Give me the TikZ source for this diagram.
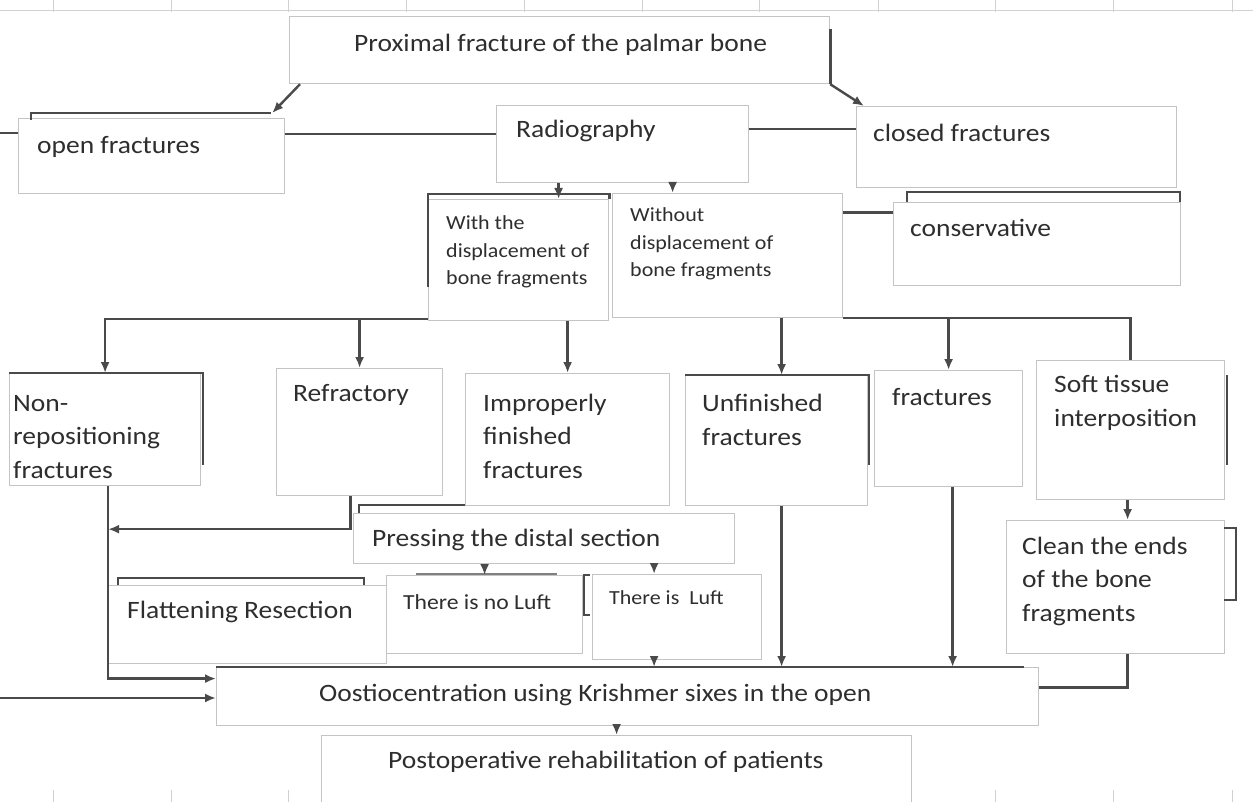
\documentclass[tikz,border=0pt]{standalone}
\usepackage{fontspec}
\setmainfont{Carlito}[FakeStretch=1.1]
\usepackage{tikz}
\usetikzlibrary{arrows.meta, calc}
\definecolor{boxgray}{HTML}{C4C4C4}
\definecolor{linegray}{HTML}{4A4A4A}
\definecolor{txtgray}{HTML}{2E2E2E}

\begin{document}
\begin{tikzpicture}[x=1pt, y=-1pt,
  box/.style={draw=boxgray, line width=1.2pt, fill=white, anchor=north west, inner sep=0pt},
  edge/.style={draw=linegray, line width=2.6pt},
  conn/.style={draw=linegray, line width=2.4pt},
  arr/.style={conn, -{Latex[length=11pt,width=9pt]}},
  txt/.style={text=txtgray, anchor=west, inner sep=0pt, align=left},
  big/.style={txt, font=\fontsize{25}{33.5}\selectfont},
  small/.style={txt, font=\fontsize{20}{27.5}\selectfont}]
\useasboundingbox (0,0) rectangle (1253,802);
\fill[white] (0,0) rectangle (1253,802);

% sheet grid
\draw[gray!35, line width=0.8pt] (0,10) -- (1253,10);
\foreach \gx in {53,171,288,406,524,642,759,878,995,1113,1232}
  \draw[gray!35, line width=0.8pt] (\gx,0) -- (\gx,12);
\foreach \gx in {53,171,288,995,1113,1232}
  \draw[gray!35, line width=0.8pt] (\gx,790) -- (\gx,802);

% boxes
\node[box, minimum width=540, minimum height=67] (prox) at (289,16) {};
\node[box, minimum width=266, minimum height=75] (openfr) at (18,118) {};
\node[box, minimum width=252, minimum height=77] (radio) at (496,105) {};
\node[box, minimum width=320, minimum height=81] (closedfr) at (856,106) {};
\node[box, minimum width=180, minimum height=121] (withb) at (428,199) {};
\node[box, minimum width=230, minimum height=124] (withoutb) at (612,193) {};
\node[box, minimum width=287, minimum height=83] (conserv) at (893,202) {};
\node[box, minimum width=191, minimum height=112] (nonrep) at (9,373) {};
\node[box, minimum width=166, minimum height=127] (refr) at (276,368) {};
\node[box, minimum width=204, minimum height=132] (improp) at (465,373) {};
\node[box, minimum width=182, minimum height=130] (unfin) at (685,375) {};
\node[box, minimum width=148, minimum height=116] (fract) at (874,370) {};
\node[box, minimum width=188, minimum height=139] (soft) at (1036,360) {};
\node[box, minimum width=381, minimum height=50] (press) at (353,513) {};
\node[box, minimum width=279, minimum height=78] (flat) at (107,585) {};
\node[box, minimum width=196, minimum height=78] (noluft) at (386,575) {};
\node[box, minimum width=169, minimum height=85] (luft) at (592,574) {};
\node[box, minimum width=218, minimum height=133] (clean) at (1006,520) {};
\node[box, minimum width=822, minimum height=58] (oost) at (216,667) {};
\node[box, minimum width=590, minimum height=70] (postop) at (321,735) {};

% dark edges
\draw[edge] (prox.north east |- 0,29) -- (prox.south east);
\draw[edge] (31,120) -- (31,113) -- (271,113);
\draw[edge] (428,287) -- (withb.north west |- 0,194) -- (withb.north east |- 0,194) -- (withb.north east);
\draw[edge] (907,202) -- (907,192) -- (1180,192) -- (1180,202);
\draw[edge] (nonrep.north west) -- (203,373) -- (203,465);
\draw[edge] (unfin.north west) -- (869,375) -- (869,465);
\draw[edge] (1227,375) -- (1227,465);
\draw[edge] (359,513) -- (359,505) -- (465,505);
\draw[edge] (118,585) -- (118,578) -- (364,578) -- (364,585);
\draw[edge, draw=linegray!70] (416,574) -- (557,574);
\draw[edge, line width=2pt] (590,575) -- (584,575) -- (584,615) -- (590,615);
\draw[edge] (1224,528) -- (1236,528) -- (1236,600) -- (1224,600);
\draw[edge] (oost.north west) -- (1024,667);

% texts
\node[big] (proxt) at (354,45) {Proximal fracture of the palmar bone};
\node[big] (openfrt) at (37,147) {open fractures};
\node[big] (radiot) at (516,131) {Radiography};
\node[big] (closedfrt) at (873,133) {closed fractures};
\node[small] (withbt) at (446,252) {With the\\displacement of\\bone fragments};
\node[small] (withoutbt) at (630,244) {Without\\displacement of\\bone fragments};
\node[big] (conservt) at (910,228) {conservative};
\node[big] (nonrept) at (13,437) {Non-\\repositioning\\fractures};
\node[big] (refrt) at (293,395) {Refractory};
\node[big] (impropt) at (483,436) {Improperly\\finished\\fractures};
\node[big] (unfint) at (702,420) {Unfinished\\fractures};
\node[big] (fractt) at (892,397) {fractures};
\node[big] (softt) at (1054,403) {Soft tissue\\interposition};
\node[big] (presst) at (372,540) {Pressing the distal section};
\node[big] (flatt) at (127,612) {Flattening Resection};
\node[small, font=\fontsize{21.5}{27.5}\selectfont] (noluftt) at (403,602) {There is no Luft};
\node[small] (luftt) at (609,598) {There is~ Luft};
\node[big] (cleant) at (1022,581) {Clean the ends\\of the bone\\fragments};
\node[big] (oostt) at (319,695) {Oostiocentration using Krishmer sixes in the open};
\node[big] (postopt) at (388,762) {Postoperative rehabilitation of patients};

% connectors
\coordinate (edgeL) at (0,133);
\coordinate (edgeIn) at (0,698);
\coordinate (busL) at ($(withb.south west)+(0,-2)$);
\coordinate (radW) at ($(radio.south)+(-64,0)$);
\coordinate (radO) at ($(radio.south)+(50,0)$);
\coordinate (openR) at ($(openfr.east)+(0,-22)$);
\coordinate (radR) at ($(radio.east)+(0,-15)$);
\coordinate (wocR) at ($(withoutb.east)+(0,-43)$);
\coordinate (unfT) at ($(unfin.north)+(5,0)$);
\coordinate (unfB) at ($(unfin.south)+(5,0)$);
\coordinate (frB) at ($(fract.south)+(4,0)$);
\coordinate (softB) at ($(soft.south)+(-3,0)$);
\coordinate (pressL) at ($(press.south)+(110,0)$);
\coordinate (luftB) at ($(luft.south)+(-23,0)$);
\draw[arr] ($(prox.south west)+(11,0)$) -- ($(openfr.north east)+(-13,-5)$);
\draw[arr] (prox.south east) -- ($(closedfr.north west)+(8,0)$);
\draw[conn] (edgeL) -- (edgeL -| openfr.west);
\draw[conn] (openR) -- (openR -| radio.west);
\draw[conn] (radR) -- (radR -| closedfr.west);
\draw[arr] (radW) -- (radW |- withb.north);
\draw[arr] (radO) -- (radO |- withoutb.north);
\draw[conn] (wocR) -- (wocR -| conserv.west);
\draw[arr] (busL) -| (nonrep.north);
\draw[arr] (busL -| refr.north) -- (refr.north);
\draw[arr] (withb.south -| improp.north) -- (improp.north);
\draw[conn] (withoutb.south east) -| (soft.north);
\draw[arr] (withoutb.south -| unfT) -- (unfT);
\draw[arr] (withoutb.south -| fract.north) -- (fract.north);
\draw[arr] ($(refr.south)+(-9,0)$) |- ($(nonrep.south)+(3,43)$);
\draw[arr] ($(nonrep.south)+(3,0)$) |- ($(oost.west)+(0,-18)$);
\draw[arr] (edgeIn) -- (edgeIn -| oost.west);
\draw[arr] (press.south -| noluft.north) -- (noluft.north);
\draw[arr] (pressL) -- (pressL |- luft.north);
\draw[arr] (luftB) -- (luftB |- oost.north);
\draw[arr] (unfB) -- (unfB |- oost.north);
\draw[arr] (frB) -- (frB |- oost.north);
\draw[arr] (softB) -- (softB |- clean.north);
\draw[conn] ($(clean.south)+(12,0)$) |- ($(oost.east)+(0,-9)$);
\draw[arr] (postop.north |- oost.south) -- (postop.north);
\end{tikzpicture}
\end{document}
